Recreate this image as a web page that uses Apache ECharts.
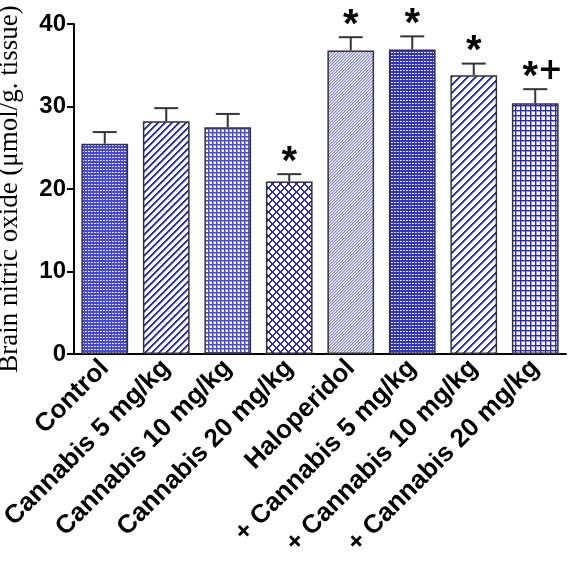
<!DOCTYPE html>
<html><head><meta charset="utf-8">
<script src="https://cdn.jsdelivr.net/npm/echarts@6/dist/echarts.min.js"></script>
<style>html,body{margin:0;padding:0;background:#fff}#c{width:570px;height:562px}</style>
</head><body><div id="c"></div>
<script>
var categories = ['Control','Cannabis 5 mg/kg','Cannabis 10 mg/kg','Cannabis 20 mg/kg','Haloperidol','+ Cannabis 5 mg/kg','+ Cannabis 10 mg/kg','+ Cannabis 20 mg/kg'];
var values = [25.5, 28.2, 27.5, 20.9, 36.8, 36.9, 33.8, 30.4];
var errors = [1.4, 1.6, 1.6, 0.9, 1.6, 1.6, 1.4, 1.7];
var marks = ['', '', '', '*', '*', '*', '*', '*+'];
var yTicks = [0, 10, 20, 30, 40];

function pat(type){
  var c = document.createElement('canvas');
  var g;
  function px(x,y,col){g.fillStyle=col;g.fillRect(x,y,1,1);}
  if(type==='dots'||type==='dots2'){
    c.width=3;c.height=3;g=c.getContext('2d');
    var col = type==='dots'?'#4848d8':'#3434c4';
    g.fillStyle=col;g.fillRect(0,0,3,3);
    px(1,1,'#fff');px(2,1,'#c8c8f4');
  } else if(type==='diag'||type==='diag2'){
    var p = type==='diag'?7:8;
    c.width=p;c.height=p;g=c.getContext('2d');
    g.fillStyle='#fff';g.fillRect(0,0,p,p);
    for(var i=0;i<p;i++){
      var x=(p-1-i);
      px(x,i,'#2a2aa6');px((x+1)%p,i,'#2a2aa6');px((x+2)%p,i,'#8a8ad8');
    }
  } else if(type==='fine'){
    c.width=3;c.height=3;g=c.getContext('2d');
    g.fillStyle='#fff';g.fillRect(0,0,3,3);
    for(var i=0;i<3;i++){px(2-i,i,'#8080d8');px((3-i)%3,i,'#c0c0ee');}
  } else if(type==='grid'||type==='grid2'){
    var p = type==='grid'?4:5;
    c.width=p;c.height=p;g=c.getContext('2d');
    g.fillStyle='#fff';g.fillRect(0,0,p,p);
    var col = type==='grid'?'#4a4ad0':'#2a2ab0';
    g.fillStyle='#9a9ae4';g.fillRect(0,1,p,1);g.fillRect(1,0,1,p);
    g.fillStyle=col;g.fillRect(0,0,p,1);g.fillRect(0,0,1,p);
  } else if(type==='cross'){
    var p=8;c.width=p;c.height=p;g=c.getContext('2d');
    g.fillStyle='#fff';g.fillRect(0,0,p,p);
    for(var i=0;i<p;i++){
      px(i,i,'#2626b8');px((i+1)%p,i,'#2626b8');
      px(p-1-i,i,'#2626b8');px((p-i)%p,i,'#2626b8');
    }
  }
  return {image:c, repeat:'repeat'};
}
var patterns = ['dots','diag','grid','cross','fine','dots2','diag2','grid2'];

var chart = echarts.init(document.getElementById('c'));
var barData = values.map(function(v,i){
  return {value:v, itemStyle:{color:pat(patterns[i]), borderColor:'#333', borderWidth:1.5}};
});
chart.setOption({
  animation:false,
  grid:{left:74,right:4,top:24,bottom:208,containLabel:false,outerBoundsMode:'none'},
  xAxis:{type:'category',data:categories,
    axisLine:{lineStyle:{color:'#000',width:2}},
    axisTick:{show:false},
    axisLabel:{rotate:45,interval:0,margin:10,color:'#000',fontFamily:'Liberation Sans',fontWeight:'bold',fontSize:26}
  },
  yAxis:{type:'value',min:0,max:40,interval:10,
    name:'Brain nitric oxide (\u03bcmol/g. tissue)',nameLocation:'middle',nameGap:51,
    nameTextStyle:{fontFamily:'Liberation Serif',fontSize:27,color:'#000'},
    axisLine:{show:true,lineStyle:{color:'#000',width:2}},
    axisTick:{show:true,length:7,lineStyle:{color:'#000',width:2}},
    splitLine:{show:false},
    axisLabel:{margin:8,color:'#000',fontFamily:'Liberation Sans',fontWeight:'bold',fontSize:24,
      formatter:function(v){return yTicks.indexOf(v)>=0?String(v):'';}}
  },
  series:[
    {type:'bar',data:barData,barWidth:'76%'},
    {type:'custom',data:values.map(function(v,i){return [i,v,errors[i]];}),z:5,
      renderItem:function(params,api){
        var i=api.value(0),v=api.value(1),e=api.value(2);
        var p0=api.coord([i,v]),p1=api.coord([i,v+e]);
        var children=[
          {type:'line',shape:{x1:p0[0],y1:p0[1],x2:p1[0],y2:p1[1]},style:{stroke:'#333',lineWidth:2}},
          {type:'line',shape:{x1:p1[0]-12,y1:p1[1],x2:p1[0]+12,y2:p1[1]},style:{stroke:'#333',lineWidth:2}}
        ];
        var m=marks[i];
        if(m){
          var fs=40;
          children.push({type:'text',style:{text:'*',x:p1[0]+(m.length>1?-5:0),y:p1[1]-18-0.33*fs,align:'center',verticalAlign:'top',
            font:'bold '+fs+'px Liberation Sans',fill:'#000'}});
          if(m.indexOf('+')>=0){
            children.push({type:'text',style:{text:'+',x:p1[0]+15,y:p1[1]-18,align:'center',verticalAlign:'middle',
              font:'900 30px DejaVu Sans',fill:'#000'}});
          }
        }
        return {type:'group',children:children};
      }
    }
  ]
});
</script></body></html>
